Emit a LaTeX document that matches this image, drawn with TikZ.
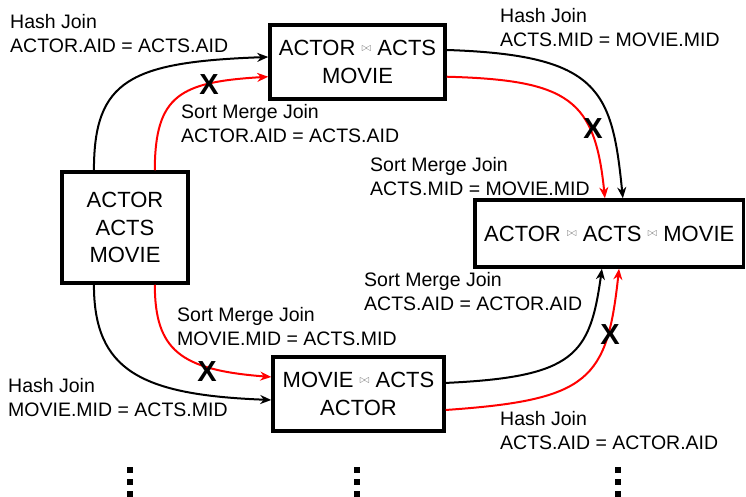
\documentclass[tikz,border=0pt]{standalone}
\usepackage{fontspec}
\setmainfont{Liberation Sans}
\usetikzlibrary{calc,arrows.meta}
\newcommand{\bj}{\raisebox{4.5pt}{\fontsize{12.5}{12.5}\selectfont\color{gray}$\bowtie$}}
\begin{document}
\begin{tikzpicture}[x=1pt,y=-1pt,
  box/.style={draw, line width=3.5pt, inner sep=0pt, align=center,
    font=\fontsize{22}{27.5}\selectfont},
  lbl/.style={anchor=north west, inner sep=0pt, align=left,
    font=\fontsize{19.5}{24}\selectfont},
  conn/.style={line width=2pt, -{Stealth[length=11pt,width=9pt,inset=3.5pt]}},
  bad/.style={conn, red},
  xmark/.style={inner sep=0pt, font=\bfseries\fontsize{29}{29}\selectfont},
  dotsq/.style={fill=black, minimum size=6pt, inner sep=0pt}]
\useasboundingbox (0,0) rectangle (746,497);
\fill[white] (0,0) rectangle (746,497);

% boxes
\node[box, minimum width=126pt, minimum height=111pt] (L) at (125,227.5) {ACTOR\\ACTS\\MOVIE};
\node[box, minimum width=175pt, minimum height=74pt] (T) at (357.5,62) {ACTOR \bj{} ACTS\\MOVIE};
\node[box, minimum width=268.5pt, minimum height=67pt] (R) at (609.25,233.5) {ACTOR \bj{} ACTS \bj{} MOVIE};
\node[box, minimum width=171pt, minimum height=74pt] (B) at (358.5,394) {MOVIE \bj{} ACTS\\ACTOR};

% endpoints
\coordinate (Lb1) at ($(L.north west)!0.26!(L.north east)$);
\coordinate (Lr1) at ($(L.north west)!0.73!(L.north east)$);
\coordinate (Lb2) at ($(L.south west)!0.26!(L.south east)$);
\coordinate (Lr2) at ($(L.south west)!0.73!(L.south east)$);
\coordinate (Tbi) at ($(T.north west)!0.435!(T.south west)$);
\coordinate (Tri) at ($(T.north west)!0.69!(T.south west)$);
\coordinate (Tbo) at ($(T.north east)!0.345!(T.south east)$);
\coordinate (Tro) at ($(T.north east)!0.69!(T.south east)$);
\coordinate (Bri) at ($(B.north west)!0.28!(B.south west)$);
\coordinate (Bbi) at ($(B.north west)!0.577!(B.south west)$);
\coordinate (Bbo) at ($(B.north east)!0.357!(B.south east)$);
\coordinate (Bro) at ($(B.north east)!0.706!(B.south east)$);
\coordinate (Rrt) at ($(R.north west)!0.484!(R.north east)$);
\coordinate (Rbt) at ($(R.north west)!0.55!(R.north east)$);
\coordinate (Rbb) at ($(R.south west)!0.473!(R.south east)$);
\coordinate (Rrb) at ($(R.south west)!0.536!(R.south east)$);

% connectors
\draw[conn] (Lb1) .. controls (94,80) and (130,62) .. (Tbi);
\draw[bad] (Lr1) .. controls (155,95) and (180,82) .. (Tri);
\draw[conn] (Lb2) .. controls (94,370) and (140,395) .. (Bbi);
\draw[bad] (Lr2) .. controls (155,350) and (180,370) .. (Bri);
\draw[conn] (Tbo) .. controls (600,55) and (612,90) .. (Rbt);
\draw[bad] (Tro) .. controls (570,80) and (595,100) .. (Rrt);
\draw[conn] (Bbo) .. controls (575,377) and (590,355) .. (Rbb);
\draw[bad] (Bro) .. controls (590,400) and (607,380) .. (Rrb);

% X marks
\node[xmark] (x1) at (209,85) {X};
\node[xmark] (x2) at (593,129) {X};
\node[xmark] (x3) at (610,335) {X};
\node[xmark] (x4) at (207,372) {X};

% labels
\node[lbl] (l1) at (10,14) {Hash Join\\ACTOR.AID = ACTS.AID};
\node[lbl] (l2) at (181,104) {Sort Merge Join\\ACTOR.AID = ACTS.AID};
\node[lbl] (l3) at (500,8) {Hash Join\\ACTS.MID = MOVIE.MID};
\node[lbl] (l4) at (370,157) {Sort Merge Join\\ACTS.MID = MOVIE.MID};
\node[lbl] (l5) at (364,272) {Sort Merge Join\\ACTS.AID = ACTOR.AID};
\node[lbl] (l6) at (177,307) {Sort Merge Join\\MOVIE.MID = ACTS.MID};
\node[lbl] (l7) at (8,378) {Hash Join\\MOVIE.MID = ACTS.MID};
\node[lbl] (l8) at (500,411) {Hash Join\\ACTS.AID = ACTOR.AID};

% continuation dots
\foreach \xx/\nm in {129.5/a,357/b,618/c}{
  \node[dotsq] (d\nm1) at (\xx,469.5) {};
  \node[dotsq] (d\nm2) at (\xx,481.5) {};
  \node[dotsq] (d\nm3) at (\xx,493.5) {};
}
\end{tikzpicture}
\end{document}
